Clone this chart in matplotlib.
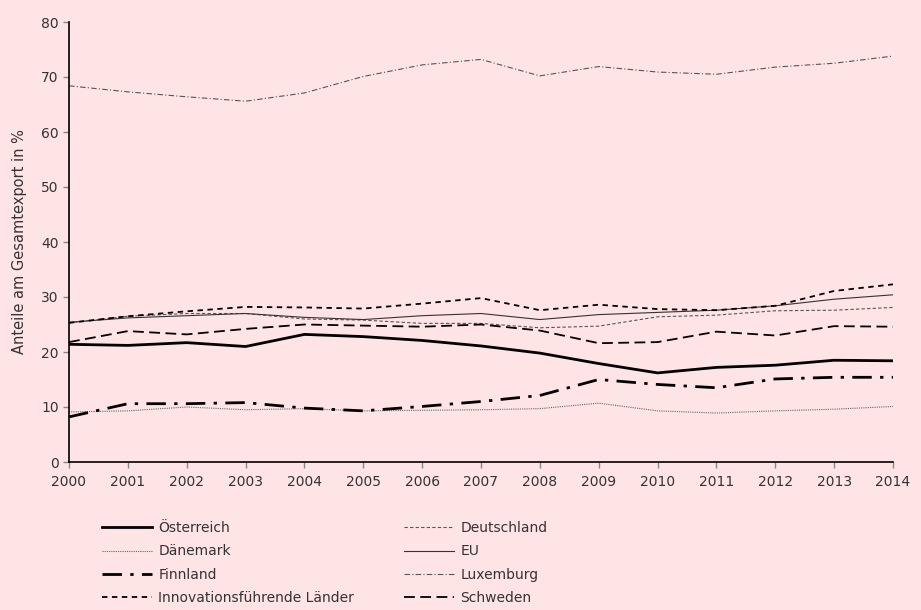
import matplotlib
matplotlib.use("Agg")
import matplotlib.pyplot as plt

years = list(range(2000, 2015))
oesterreich = [21.4, 21.2, 21.7, 21.0, 23.2, 22.8, 22.1, 21.1, 19.8, 17.9, 16.2, 17.2, 17.6, 18.5, 18.4]
deutschland = [25.3, 26.5, 27.0, 27.0, 26.0, 25.8, 25.2, 25.2, 24.4, 24.7, 26.4, 26.7, 27.5, 27.6, 28.1]
daenemark = [9.1, 9.3, 10.0, 9.5, 9.7, 9.3, 9.4, 9.5, 9.7, 10.7, 9.3, 8.9, 9.3, 9.6, 10.1]
eu = [25.4, 26.2, 26.6, 27.0, 26.3, 25.9, 26.6, 27.0, 25.9, 26.8, 27.2, 27.6, 28.4, 29.6, 30.4]
finnland = [8.2, 10.6, 10.6, 10.8, 9.8, 9.3, 10.1, 11.0, 12.1, 15.0, 14.1, 13.5, 15.1, 15.4, 15.4]
luxemburg = [68.4, 67.3, 66.4, 65.6, 67.1, 70.1, 72.2, 73.2, 70.2, 71.9, 70.9, 70.5, 71.8, 72.5, 73.8]
innovation = [25.3, 26.5, 27.4, 28.2, 28.1, 27.9, 28.8, 29.8, 27.6, 28.6, 27.8, 27.6, 28.4, 31.1, 32.3]
schweden = [21.8, 23.8, 23.2, 24.2, 25.0, 24.8, 24.6, 25.0, 23.9, 21.6, 21.8, 23.7, 23.0, 24.7, 24.6]

names = ["Österreich", "Deutschland", "Dänemark", "EU", "Finnland", "Luxemburg",
         "Innovationsführende Länder", "Schweden"]
series = [oesterreich, deutschland, daenemark, eu, finnland, luxemburg, innovation, schweden]

styles = {
    "Österreich": dict(color="black", lw=2.0, ls="-"),
    "Deutschland": dict(color="#555555", lw=0.8, ls=(0, (3, 2))),
    "Dänemark": dict(color="#666666", lw=0.8, ls=(0, (1, 1))),
    "EU": dict(color="#333333", lw=0.8, ls="-"),
    "Finnland": dict(color="black", lw=2.0, ls=(0, (7, 3, 1.2, 3))),
    "Luxemburg": dict(color="#555555", lw=0.8, ls=(0, (5, 2, 1, 2))),
    "Innovationsführende Länder": dict(color="black", lw=1.3, ls=(0, (3, 2.5))),
    "Schweden": dict(color="black", lw=1.3, ls=(0, (6, 3))),
}

bg = "#FFE4E6"
plt.rcParams['font.family'] = ['DejaVu Sans']
fig = plt.figure(figsize=(9.21, 6.10), dpi=100, facecolor=bg)
ax = fig.add_axes([69/921, 1-462/610, (893-69)/921, (462-22)/610])
ax.set_facecolor(bg)

handles = {}
for name, vals in zip(names, series):
    st = styles[name]
    ln, = ax.plot(years, vals, color=st["color"], lw=st["lw"], linestyle=st["ls"], label=name)
    handles[name] = ln

ax.set_xlim(2000, 2014)
ax.set_ylim(0, 80)
ax.set_xticks(years)
ax.set_yticks(range(0, 81, 10))
ax.tick_params(axis='both', colors="#888888", labelcolor="#333333", labelsize=10, length=4, width=1)
ax.tick_params(axis='x', pad=5)
for s in ["top", "right"]:
    ax.spines[s].set_visible(False)
for s in ["left", "bottom"]:
    ax.spines[s].set_color("black")
    ax.spines[s].set_linewidth(1.2)
ax.set_ylabel("Anteile am Gesamtexport in %", fontsize=10.5, color="#333333", labelpad=10)

col1 = ["Österreich", "Dänemark", "Finnland", "Innovationsführende Länder"]
col2 = ["Deutschland", "EU", "Luxemburg", "Schweden"]
for col, x in [(col1, 102/921), (col2, 404/921)]:
    leg = fig.legend([handles[n] for n in col], col, loc="upper left",
                     bbox_to_anchor=(x, 1-521/610), frameon=False, fontsize=10,
                     handlelength=3.6, handletextpad=0.45, labelspacing=0.68,
                     borderpad=0, borderaxespad=0)
    for t in leg.get_texts():
        t.set_color("#333333")

fig.savefig("out.png", dpi=100, facecolor=bg)
